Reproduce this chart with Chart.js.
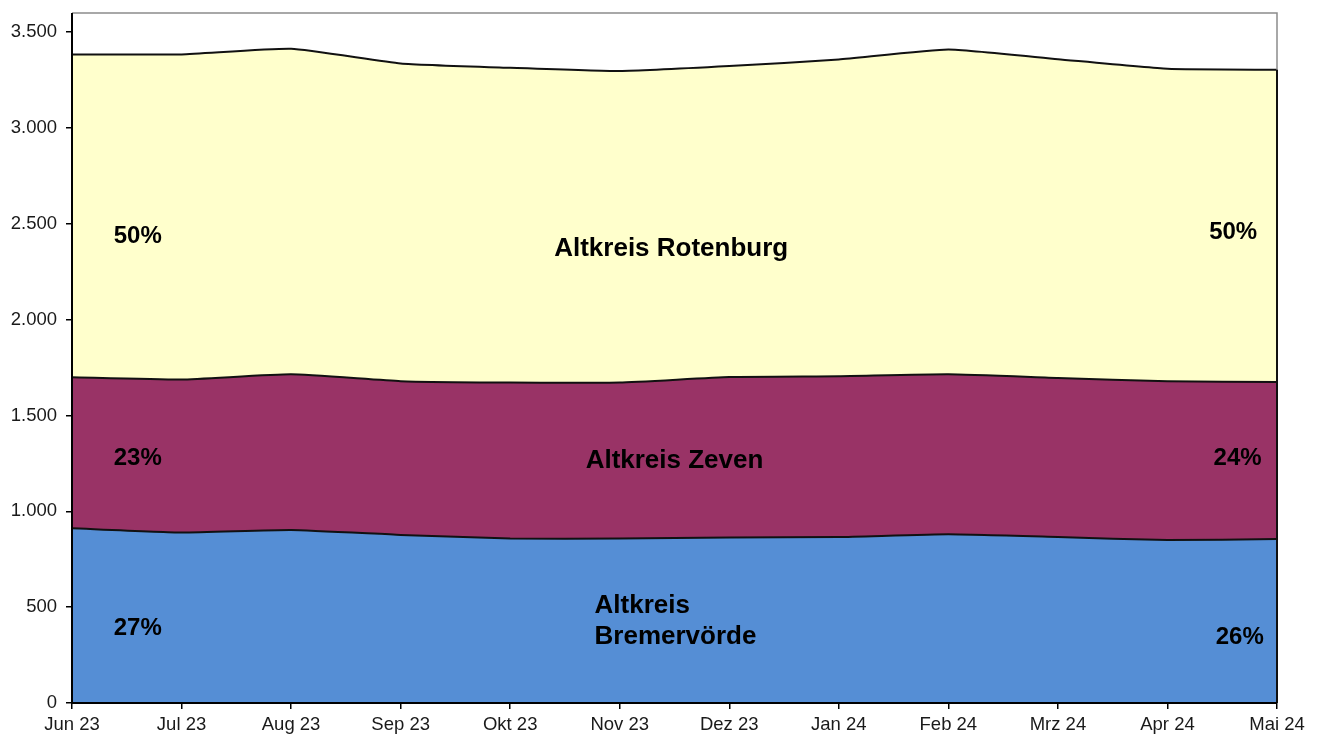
<!DOCTYPE html>
<html>
<head>
<meta charset="utf-8">
<title>Altkreise</title>
<script src="https://cdn.jsdelivr.net/npm/chart.js@4"></script>
<style>
  body { margin: 0; background: #fff; }
  #wrap { width: 1322px; height: 736px; }
</style>
</head>
<body>
<div id="wrap"><canvas id="areaChart" width="1322" height="736"></canvas></div>
<script>
// months on the x axis
const months = ['Jun 23', 'Jul 23', 'Aug 23', 'Sep 23', 'Okt 23', 'Nov 23',
                'Dez 23', 'Jan 24', 'Feb 24', 'Mrz 24', 'Apr 24', 'Mai 24'];

// values (stacked, bottom to top)
const bremervoerde = [912, 890, 903, 877, 858, 858, 864, 866, 880, 866, 850, 856];
const zeven        = [788, 798, 812, 802, 814, 814, 837, 839, 835, 830, 829, 819];
const rotenburg    = [1684, 1696, 1698, 1658, 1642, 1625, 1622, 1653, 1695, 1663, 1630, 1629];

const yTicks = [0, 500, 1000, 1500, 2000, 2500, 3000, 3500];

// text inside the areas: [text, category index, y value, size, align]
const areaTexts = [
    ['50%', 0.6, 2432, 24, 'center'],
    ['Altkreis Rotenburg', 5.47, 2370, 26, 'center'],
    ['50%', 10.6, 2458, 24, 'center'],
    ['23%', 0.6, 1276, 24, 'center'],
    ['Altkreis Zeven', 5.5, 1266, 26, 'center'],
    ['24%', 10.64, 1276, 24, 'center'],
    ['27%', 0.6, 391, 24, 'center'],
    ['Altkreis', 4.77, 505, 26, 'left'],
    ['Bremervörde', 4.77, 344, 26, 'left'],
    ['26%', 10.66, 344, 24, 'center']
];

const fmt = v => v.toLocaleString('de-DE');

const framePlugin = {
    id: 'frame',
    afterDatasetsDraw(chart) {
        const ctx = chart.ctx;
        const a = chart.chartArea;
        const x = chart.scales.x, y = chart.scales.y;
        ctx.save();
        // grey frame top/right
        ctx.strokeStyle = '#8c8c8c';
        ctx.lineWidth = 1.5;
        ctx.beginPath();
        ctx.moveTo(a.left, a.top);
        ctx.lineTo(a.right, a.top);
        ctx.lineTo(a.right, a.bottom);
        ctx.stroke();
        // dark right edge of the filled area
        const last = months.length - 1;
        const total = bremervoerde[last] + zeven[last] + rotenburg[last];
        ctx.strokeStyle = '#111';
        ctx.lineWidth = 2;
        ctx.beginPath();
        ctx.moveTo(x.getPixelForValue(last), y.getPixelForValue(total));
        ctx.lineTo(x.getPixelForValue(last), y.getPixelForValue(0));
        ctx.stroke();
        // axes
        ctx.strokeStyle = '#000';
        ctx.lineWidth = 2;
        ctx.beginPath();
        ctx.moveTo(a.left, a.top);
        ctx.lineTo(a.left, a.bottom);
        ctx.lineTo(a.right, a.bottom);
        ctx.stroke();
        // labels in the areas
        ctx.fillStyle = '#000';
        ctx.textBaseline = 'middle';
        areaTexts.forEach(t => {
            ctx.font = 'bold ' + t[3] + 'px "Liberation Sans", Arial, sans-serif';
            ctx.textAlign = t[4];
            ctx.fillText(t[0], x.getPixelForValue(t[1]), y.getPixelForValue(t[2]));
        });
        ctx.restore();
    }
};

const tickFont = { family: '"Liberation Sans", Arial, sans-serif', size: 18.5 };

const ctx = document.getElementById('areaChart').getContext('2d');
const areaChart = new Chart(ctx, {
    type: 'line',
    data: {
        labels: months,
        datasets: [
            {
                label: 'Altkreis Bremervörde',
                data: bremervoerde,
                backgroundColor: '#558ed5',
                borderColor: '#111',
                borderWidth: 2,
                fill: 'origin',
                tension: 0.15,
                pointRadius: 0
            },
            {
                label: 'Altkreis Zeven',
                data: zeven,
                backgroundColor: '#993366',
                borderColor: '#111',
                borderWidth: 2,
                fill: '-1',
                tension: 0.15,
                pointRadius: 0
            },
            {
                label: 'Altkreis Rotenburg',
                data: rotenburg,
                backgroundColor: '#ffffcc',
                borderColor: '#111',
                borderWidth: 2,
                fill: '-1',
                tension: 0.15,
                pointRadius: 0
            }
        ]
    },
    options: {
        responsive: false,
        animation: false,
        layout: { padding: { top: 13, right: 45, left: 0, bottom: 0 } },
        plugins: {
            legend: { display: false },
            tooltip: { enabled: false }
        },
        scales: {
            x: {
                offset: false,
                grid: { display: true, drawOnChartArea: false, drawTicks: true, tickLength: 6, color: '#000', lineWidth: 1.5 },
                border: { display: false },
                ticks: {
                    color: '#1a1a1a',
                    font: tickFont,
                    padding: 5,
                    maxRotation: 0,
                    autoSkip: false
                },
                afterFit: s => { s.height = 33; s.paddingLeft = 0; s.paddingRight = 0; }
            },
            y: {
                stacked: true,
                min: 0,
                max: 3600,
                afterBuildTicks: s => { s.ticks = yTicks.map(v => ({ value: v })); },
                grid: { display: true, drawOnChartArea: false, drawTicks: true, tickLength: 6, color: '#000', lineWidth: 1.5 },
                border: { display: false },
                ticks: {
                    color: '#1a1a1a',
                    font: tickFont,
                    padding: 9,
                    callback: v => fmt(v)
                },
                afterFit: s => { s.width = 72; s.paddingTop = 0; s.paddingBottom = 0; }
            }
        }
    },
    plugins: [framePlugin]
});
</script>
</body>
</html>
